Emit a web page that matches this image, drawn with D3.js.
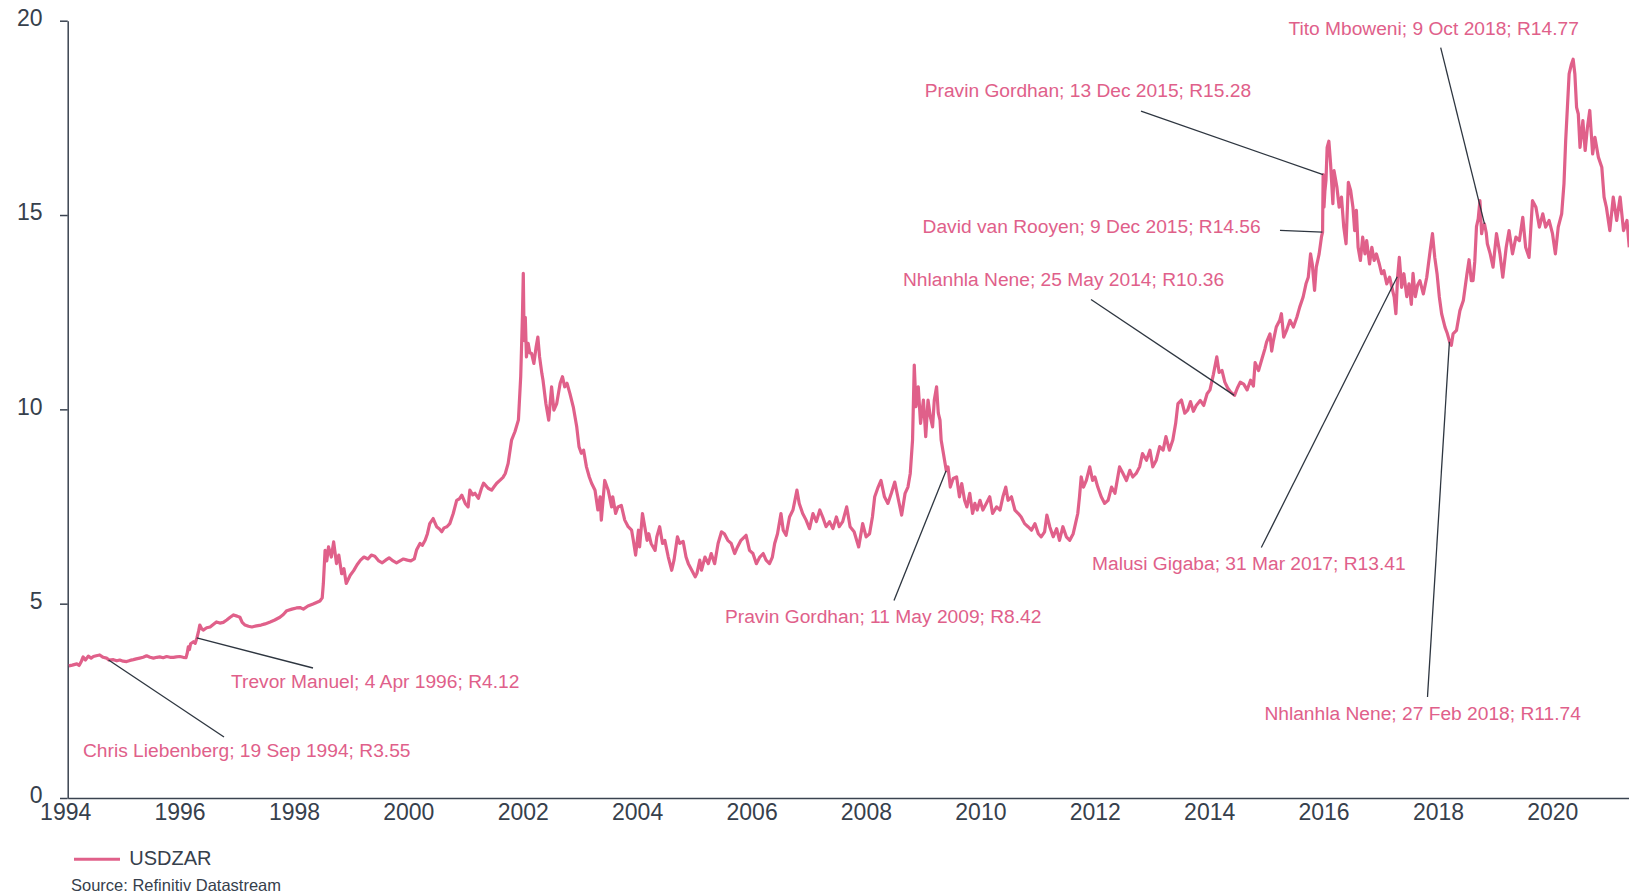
<!DOCTYPE html>
<html><head><meta charset="utf-8">
<script src="https://cdn.jsdelivr.net/npm/d3@7"></script>
<style>
body{margin:0;background:#fff;}
svg{display:block;font-family:"Liberation Sans",Arial,Helvetica,sans-serif;}
</style></head><body>
<svg id="chart" width="1629" height="895"></svg>
<script>
// ---------- DATA (decimal year, USDZAR) ----------
const yTicks = [0, 5, 10, 15, 20];
const xTickYears = [1994,1996,1998,2000,2002,2004,2006,2008,2010,2012,2014,2016,2018,2020];
const seriesName = "USDZAR";
const sourceText = "Source: Refinitiv Datastream";

const usdzar1994_1998 = [
[1994.02,3.40],[1994.08,3.42],[1994.16,3.45],[1994.2,3.41],[1994.24,3.52],[1994.27,3.63],[1994.31,3.55],[1994.36,3.65],[1994.41,3.60],[1994.45,3.64],[1994.5,3.66],[1994.56,3.68],[1994.62,3.62],[1994.68,3.60],[1994.72,3.55],[1994.8,3.56],[1994.86,3.53],[1994.91,3.55],[1994.97,3.52],
[1995.03,3.51],[1995.09,3.54],[1995.15,3.56],[1995.2,3.58],[1995.26,3.60],[1995.32,3.62],[1995.38,3.66],[1995.44,3.62],[1995.5,3.60],[1995.56,3.62],[1995.61,3.63],[1995.67,3.61],[1995.73,3.64],[1995.79,3.62],[1995.85,3.62],[1995.9,3.63],[1995.96,3.64],
[1996.02,3.62],[1996.07,3.61],[1996.09,3.72],[1996.11,3.89],[1996.13,3.82],[1996.15,3.97],[1996.2,4.02],[1996.23,3.98],[1996.26,4.12],[1996.29,4.30],[1996.31,4.45],[1996.34,4.36],[1996.37,4.32],[1996.43,4.38],[1996.49,4.40],[1996.55,4.47],[1996.6,4.53],[1996.66,4.50],[1996.72,4.52],[1996.78,4.58],[1996.84,4.65],[1996.9,4.71],[1996.96,4.68],
[1997.01,4.65],[1997.05,4.52],[1997.1,4.45],[1997.16,4.42],[1997.22,4.40],[1997.3,4.43],[1997.38,4.45],[1997.45,4.48],[1997.54,4.53],[1997.62,4.58],[1997.71,4.65],[1997.77,4.72],[1997.83,4.82],[1997.92,4.86],
[1998.0,4.89],[1998.06,4.90],[1998.12,4.86],[1998.2,4.94],[1998.29,4.99],[1998.35,5.03],[1998.41,5.07],[1998.45,5.15],[1998.47,5.52],[1998.5,6.37],[1998.53,6.10],[1998.56,6.46],[1998.61,6.20],[1998.65,6.59],[1998.7,6.03],[1998.74,6.25],[1998.79,5.77],[1998.83,5.90],[1998.87,5.52],[1998.94,5.73]
];
const usdzar1999_2001 = [
[1999.0,5.85],[1999.06,6.00],[1999.12,6.12],[1999.18,6.20],[1999.25,6.15],[1999.31,6.25],[1999.37,6.22],[1999.44,6.10],[1999.5,6.05],[1999.56,6.12],[1999.62,6.18],[1999.69,6.10],[1999.75,6.05],[1999.81,6.10],[1999.87,6.15],[1999.94,6.12],
[2000.0,6.10],[2000.06,6.15],[2000.1,6.38],[2000.16,6.55],[2000.2,6.50],[2000.25,6.63],[2000.29,6.80],[2000.33,7.06],[2000.39,7.19],[2000.45,6.98],[2000.5,6.92],[2000.54,6.85],[2000.58,6.95],[2000.63,6.98],[2000.68,7.06],[2000.74,7.32],[2000.8,7.66],[2000.85,7.70],[2000.89,7.79],[2000.95,7.58],
[2001.0,7.49],[2001.03,7.92],[2001.08,7.80],[2001.12,7.84],[2001.18,7.71],[2001.23,7.95],[2001.27,8.10],[2001.35,7.97],[2001.41,7.92],[2001.46,8.02],[2001.5,8.10],[2001.56,8.18],[2001.61,8.25],[2001.65,8.35],[2001.7,8.61],[2001.76,9.21],[2001.82,9.43],[2001.88,9.73],[2001.92,10.85],[2001.95,12.40],[2001.965,13.50],[2001.98,11.77]
];
const usdzar2002_2003 = [
[2002.0,12.37],[2002.02,11.35],[2002.05,11.70],[2002.08,11.45],[2002.11,11.44],[2002.15,11.18],[2002.19,11.61],[2002.22,11.86],[2002.25,11.35],[2002.29,10.92],[2002.31,10.75],[2002.36,10.15],[2002.41,9.72],[2002.46,10.58],[2002.5,9.98],[2002.55,10.15],[2002.61,10.67],[2002.65,10.84],[2002.69,10.58],[2002.73,10.67],[2002.78,10.41],[2002.84,10.06],[2002.9,9.55],[2002.94,9.04],[2002.98,8.87],
[2003.02,8.95],[2003.07,8.52],[2003.12,8.26],[2003.16,8.10],[2003.22,7.92],[2003.27,7.41],[2003.31,7.75],[2003.33,7.15],[2003.39,8.17],[2003.45,7.92],[2003.51,7.49],[2003.53,7.75],[2003.58,7.32],[2003.62,7.49],[2003.68,7.53],[2003.74,7.15],[2003.8,6.98],[2003.86,6.89],[2003.89,6.63],[2003.93,6.25],[2003.98,6.89]
];
const usdzar2004_2007 = [
[2004.0,6.46],[2004.05,7.32],[2004.09,6.98],[2004.13,6.63],[2004.16,6.80],[2004.2,6.55],[2004.27,6.37],[2004.3,6.72],[2004.35,6.98],[2004.4,6.55],[2004.44,6.63],[2004.5,6.20],[2004.56,5.86],[2004.6,6.12],[2004.66,6.72],[2004.7,6.55],[2004.76,6.60],[2004.81,6.20],[2004.85,6.03],[2004.91,5.86],[2004.97,5.69],
[2005.0,5.78],[2005.05,6.12],[2005.08,5.86],[2005.14,6.20],[2005.2,6.03],[2005.25,6.29],[2005.31,6.03],[2005.37,6.55],[2005.43,6.85],[2005.48,6.80],[2005.54,6.63],[2005.6,6.55],[2005.66,6.29],[2005.71,6.46],[2005.77,6.63],[2005.86,6.76],[2005.92,6.37],[2005.98,6.29],
[2006.04,6.03],[2006.1,6.20],[2006.16,6.29],[2006.21,6.12],[2006.27,6.03],[2006.32,6.20],[2006.36,6.55],[2006.41,6.80],[2006.47,7.32],[2006.51,6.89],[2006.56,6.76],[2006.62,7.23],[2006.68,7.41],[2006.75,7.92],[2006.79,7.58],[2006.85,7.32],[2006.91,7.15],[2006.97,6.93],
[2007.03,7.32],[2007.09,7.11],[2007.15,7.41],[2007.2,7.23],[2007.26,6.98],[2007.32,7.11],[2007.38,6.93],[2007.44,7.23],[2007.49,6.98],[2007.55,7.11],[2007.62,7.49],[2007.68,6.98],[2007.75,6.85],[2007.83,6.46],[2007.9,7.06],[2007.96,6.72]
];
const usdzar2008_2012 = [
[2008.02,6.80],[2008.07,7.23],[2008.11,7.75],[2008.17,8.00],[2008.22,8.17],[2008.28,7.75],[2008.34,7.58],[2008.4,7.84],[2008.46,8.13],[2008.52,7.70],[2008.58,7.28],[2008.64,7.84],[2008.69,8.00],[2008.73,8.35],[2008.77,9.21],[2008.8,11.14],[2008.83,10.07],[2008.87,10.58],[2008.91,9.64],[2008.96,10.24],
[2009.0,9.30],[2009.04,10.24],[2009.08,9.81],[2009.12,9.55],[2009.15,10.24],[2009.19,10.58],[2009.22,9.90],[2009.25,9.72],[2009.27,9.21],[2009.3,8.95],[2009.36,8.42],[2009.39,8.52],[2009.43,8.00],[2009.48,8.22],[2009.54,8.26],[2009.59,7.75],[2009.63,8.09],[2009.68,7.66],[2009.72,7.49],[2009.77,7.84],[2009.82,7.32],[2009.86,7.58],[2009.9,7.41],[2009.95,7.66],
[2010.0,7.41],[2010.06,7.58],[2010.12,7.75],[2010.17,7.32],[2010.24,7.49],[2010.3,7.41],[2010.35,7.75],[2010.4,8.00],[2010.44,7.66],[2010.5,7.75],[2010.56,7.41],[2010.62,7.32],[2010.67,7.23],[2010.73,7.06],[2010.79,6.98],[2010.85,6.89],[2010.91,7.06],[2010.97,6.80],
[2011.02,6.72],[2011.08,6.85],[2011.12,7.28],[2011.17,6.98],[2011.23,6.72],[2011.29,6.93],[2011.34,6.63],[2011.4,6.98],[2011.46,6.72],[2011.52,6.63],[2011.58,6.80],[2011.62,7.06],[2011.66,7.32],[2011.69,7.75],[2011.72,8.26],[2011.76,8.00],[2011.81,8.17],[2011.87,8.52],[2011.92,8.17],[2011.96,8.26],
[2012.01,8.00],[2012.07,7.75],[2012.13,7.58],[2012.19,7.66],[2012.25,8.00],[2012.31,7.84],[2012.39,8.52],[2012.45,8.35],[2012.51,8.17],[2012.57,8.43],[2012.62,8.26],[2012.68,8.35],[2012.74,8.52],[2012.79,8.86],[2012.86,8.69],[2012.92,8.95],[2012.97,8.52]
];
const usdzar2013_2016 = [
[2013.03,8.69],[2013.09,9.04],[2013.15,8.95],[2013.2,9.30],[2013.26,8.95],[2013.32,9.21],[2013.37,9.64],[2013.41,10.15],[2013.47,10.24],[2013.53,9.90],[2013.58,9.98],[2013.63,10.20],[2013.68,9.95],[2013.73,10.10],[2013.8,10.23],[2013.86,10.10],[2013.92,10.40],[2013.97,10.50],
[2014.03,10.90],[2014.09,11.35],[2014.13,10.95],[2014.18,11.00],[2014.23,10.70],[2014.28,10.55],[2014.33,10.45],[2014.4,10.36],[2014.45,10.55],[2014.5,10.70],[2014.56,10.65],[2014.62,10.50],[2014.68,10.75],[2014.73,10.60],[2014.76,11.20],[2014.82,11.00],[2014.88,11.30],[2014.93,11.55],[2014.96,11.73],
[2015.02,11.94],[2015.05,11.50],[2015.08,11.77],[2015.13,12.12],[2015.19,12.29],[2015.22,12.46],[2015.26,11.86],[2015.31,12.03],[2015.37,12.29],[2015.43,12.12],[2015.49,12.37],[2015.54,12.63],[2015.6,12.89],[2015.65,13.23],[2015.69,13.40],[2015.73,14.00],[2015.76,13.74],[2015.8,13.06],[2015.83,13.66],[2015.88,14.00],[2015.92,14.43],[2015.94,14.56],[2015.95,16.04],[2015.965,15.20],[2015.98,15.60],
[2016.0,15.90],[2016.02,16.74],[2016.05,16.90],[2016.08,16.32],[2016.12,15.29],[2016.14,16.14],[2016.19,15.72],[2016.23,15.20],[2016.27,15.46],[2016.31,14.69],[2016.35,14.26],[2016.39,15.84],[2016.43,15.63],[2016.47,15.20],[2016.5,14.60],[2016.53,15.12],[2016.56,14.17],[2016.6,13.83],[2016.64,14.43],[2016.68,14.00],[2016.71,14.34],[2016.76,13.74],[2016.8,14.17],[2016.84,13.83],[2016.88,14.00],[2016.93,13.74],[2016.97,13.49]
];
const usdzar2017_2021 = [
[2017.01,13.57],[2017.06,13.23],[2017.11,13.40],[2017.15,13.14],[2017.19,12.89],[2017.22,12.46],[2017.25,13.41],[2017.28,13.91],[2017.32,13.14],[2017.36,13.49],[2017.41,12.90],[2017.45,13.23],[2017.49,12.70],[2017.52,13.50],[2017.56,12.90],[2017.6,13.20],[2017.64,13.31],[2017.7,12.97],[2017.76,13.40],[2017.82,14.09],[2017.86,14.52],[2017.9,13.91],[2017.94,13.49],[2017.98,12.89],
[2018.02,12.46],[2018.08,12.11],[2018.12,11.95],[2018.16,11.74],[2018.19,11.65],[2018.22,11.94],[2018.28,12.03],[2018.34,12.54],[2018.4,12.80],[2018.46,13.45],[2018.5,13.85],[2018.54,13.31],[2018.57,13.31],[2018.6,13.80],[2018.63,14.70],[2018.66,14.90],[2018.69,15.37],[2018.72,14.52],[2018.74,14.69],[2018.77,14.77],[2018.8,14.55],[2018.82,14.26],[2018.87,14.00],[2018.92,13.66],[2018.98,14.52],
[2019.04,14.00],[2019.09,13.40],[2019.15,14.17],[2019.2,14.60],[2019.26,14.00],[2019.32,14.43],[2019.38,14.34],[2019.44,14.94],[2019.49,14.17],[2019.55,13.91],[2019.61,15.37],[2019.67,15.20],[2019.73,14.69],[2019.79,15.03],[2019.84,14.69],[2019.9,14.86],[2019.96,14.52],
[2020.01,14.00],[2020.06,14.69],[2020.12,15.03],[2020.16,15.80],[2020.19,16.92],[2020.22,17.77],[2020.25,18.63],[2020.29,18.88],[2020.32,19.01],[2020.35,18.63],[2020.38,17.77],[2020.41,17.60],[2020.44,16.74],[2020.49,17.43],[2020.53,16.66],[2020.57,17.26],[2020.61,17.69],[2020.66,16.57],[2020.7,17.00],[2020.76,16.49],[2020.82,16.23],[2020.86,15.46],[2020.9,15.20],[2020.96,14.60],
[2021.02,15.46],[2021.08,14.86],[2021.14,15.46],[2021.2,14.60],[2021.26,14.86],[2021.3,14.17]
];

// annotations
const annText = [
 "Chris Liebenberg; 19 Sep 1994; R3.55",
 "Trevor Manuel; 4 Apr 1996; R4.12",
 "Pravin Gordhan; 11 May 2009; R8.42",
 "Nhlanhla Nene; 25 May 2014; R10.36",
 "David van Rooyen; 9 Dec 2015; R14.56",
 "Pravin Gordhan; 13 Dec 2015; R15.28",
 "Malusi Gigaba; 31 Mar 2017; R13.41",
 "Nhlanhla Nene; 27 Feb 2018; R11.74",
 "Tito Mboweni; 9 Oct 2018; R14.77"
];
const annDate = ["1994-09-19","1996-04-04","2009-05-11","2014-05-25","2015-12-09","2015-12-13","2017-03-31","2018-02-27","2018-10-09"];
const annPointValue = [3.55, 4.12, 8.42, 10.36, 14.56, 16.04, 13.41, 11.74, 14.77];

// ---------- LAYOUT ----------
const annLabelXY = [[83,757],[231,688],[725,623],[903,286],[922.6,232.5],[924.7,97.4],[1092,570],[1264.4,720],[1288.4,34.5]];
const annLineStart = [[224,737],[313,668],[894,600.5],[1091,299.5],[1280,230.3],[1141,111.2],[1261.3,547.5],[1427.5,697],[1440.7,47.7]];

const pink = "#e0608a", textColor = "#36404c", axisColor = "#3a4350", connColor = "#2e3640";
const svg = d3.select("#chart");

const dec = v => { const Y = Math.floor(v); const a = new Date(Y,0,1), b = new Date(Y+1,0,1); return new Date(+a + (v-Y)*(b-a)); };
const parse = d3.timeParse("%Y-%m-%d");

const data = [].concat(usdzar1994_1998, usdzar1999_2001, usdzar2002_2003, usdzar2004_2007, usdzar2008_2012, usdzar2013_2016, usdzar2017_2021)
  .map(d => ({date: dec(d[0]), value: d[1]}));

const x = d3.scaleTime().domain([new Date(1994,0,1), dec(2021.3)]).range([67.7, 67.7 + 27.3*57.2]);
const y = d3.scaleLinear().domain([0,20]).range([798, 20.7]);

svg.append("defs").append("clipPath").attr("id","clip")
  .append("rect").attr("x",60).attr("y",0).attr("width",1569).attr("height",800);

// axes
const gy = svg.append("g").attr("transform","translate(67.7,0)")
  .call(d3.axisLeft(y).tickValues(yTicks).tickSize(7.7).tickSizeOuter(0).tickPadding(17.5).tickFormat(d3.format("d")));
gy.select(".domain").attr("stroke",axisColor).attr("stroke-width",1.5);
gy.selectAll(".tick line").attr("stroke",axisColor).attr("stroke-width",1.5);
gy.selectAll(".tick text").attr("font-size",23).attr("fill",textColor)
  .attr("font-family",'"Liberation Sans",Arial,sans-serif').attr("y",-2.5);

const gx = svg.append("g").attr("transform","translate(0,798)")
  .call(d3.axisBottom(x).tickValues(xTickYears.map(v => new Date(v,0,1))).tickSize(0).tickSizeOuter(0).tickPadding(6).tickFormat(d3.timeFormat("%Y")));
gx.select(".domain").attr("stroke",axisColor).attr("stroke-width",1.5);
gx.selectAll(".tick text").attr("font-size",23).attr("fill",textColor)
  .attr("font-family",'"Liberation Sans",Arial,sans-serif').attr("dx",-2.5);

// series line
const line = d3.line().x(d => x(d.date)).y(d => y(d.value));
svg.append("path").datum(data).attr("clip-path","url(#clip)")
  .attr("d",line).attr("fill","none").attr("stroke",pink)
  .attr("stroke-width",3.2).attr("stroke-linejoin","round");

// annotations
const ann = annText.map((t,i) => ({text:t, date:parse(annDate[i]), v:annPointValue[i], lab:annLabelXY[i], start:annLineStart[i]}));
svg.append("g").selectAll("line").data(ann).join("line")
  .attr("x1",d => d.start[0]).attr("y1",d => d.start[1])
  .attr("x2",d => x(d.date)).attr("y2",d => y(d.v))
  .attr("stroke",connColor).attr("stroke-width",1.3);
svg.append("g").selectAll("text").data(ann).join("text")
  .attr("x",d => d.lab[0]).attr("y",d => d.lab[1])
  .attr("fill",pink).attr("font-size",19.2).text(d => d.text);

// legend
svg.append("line").attr("x1",74).attr("x2",120).attr("y1",859.3).attr("y2",859.3)
  .attr("stroke",pink).attr("stroke-width",3);
svg.append("text").attr("x",129.3).attr("y",864.5).attr("font-size",20).attr("fill",textColor).text(seriesName);
svg.append("text").attr("x",71).attr("y",891).attr("font-size",16.5).attr("fill",textColor).text(sourceText);
</script>
</body></html>
